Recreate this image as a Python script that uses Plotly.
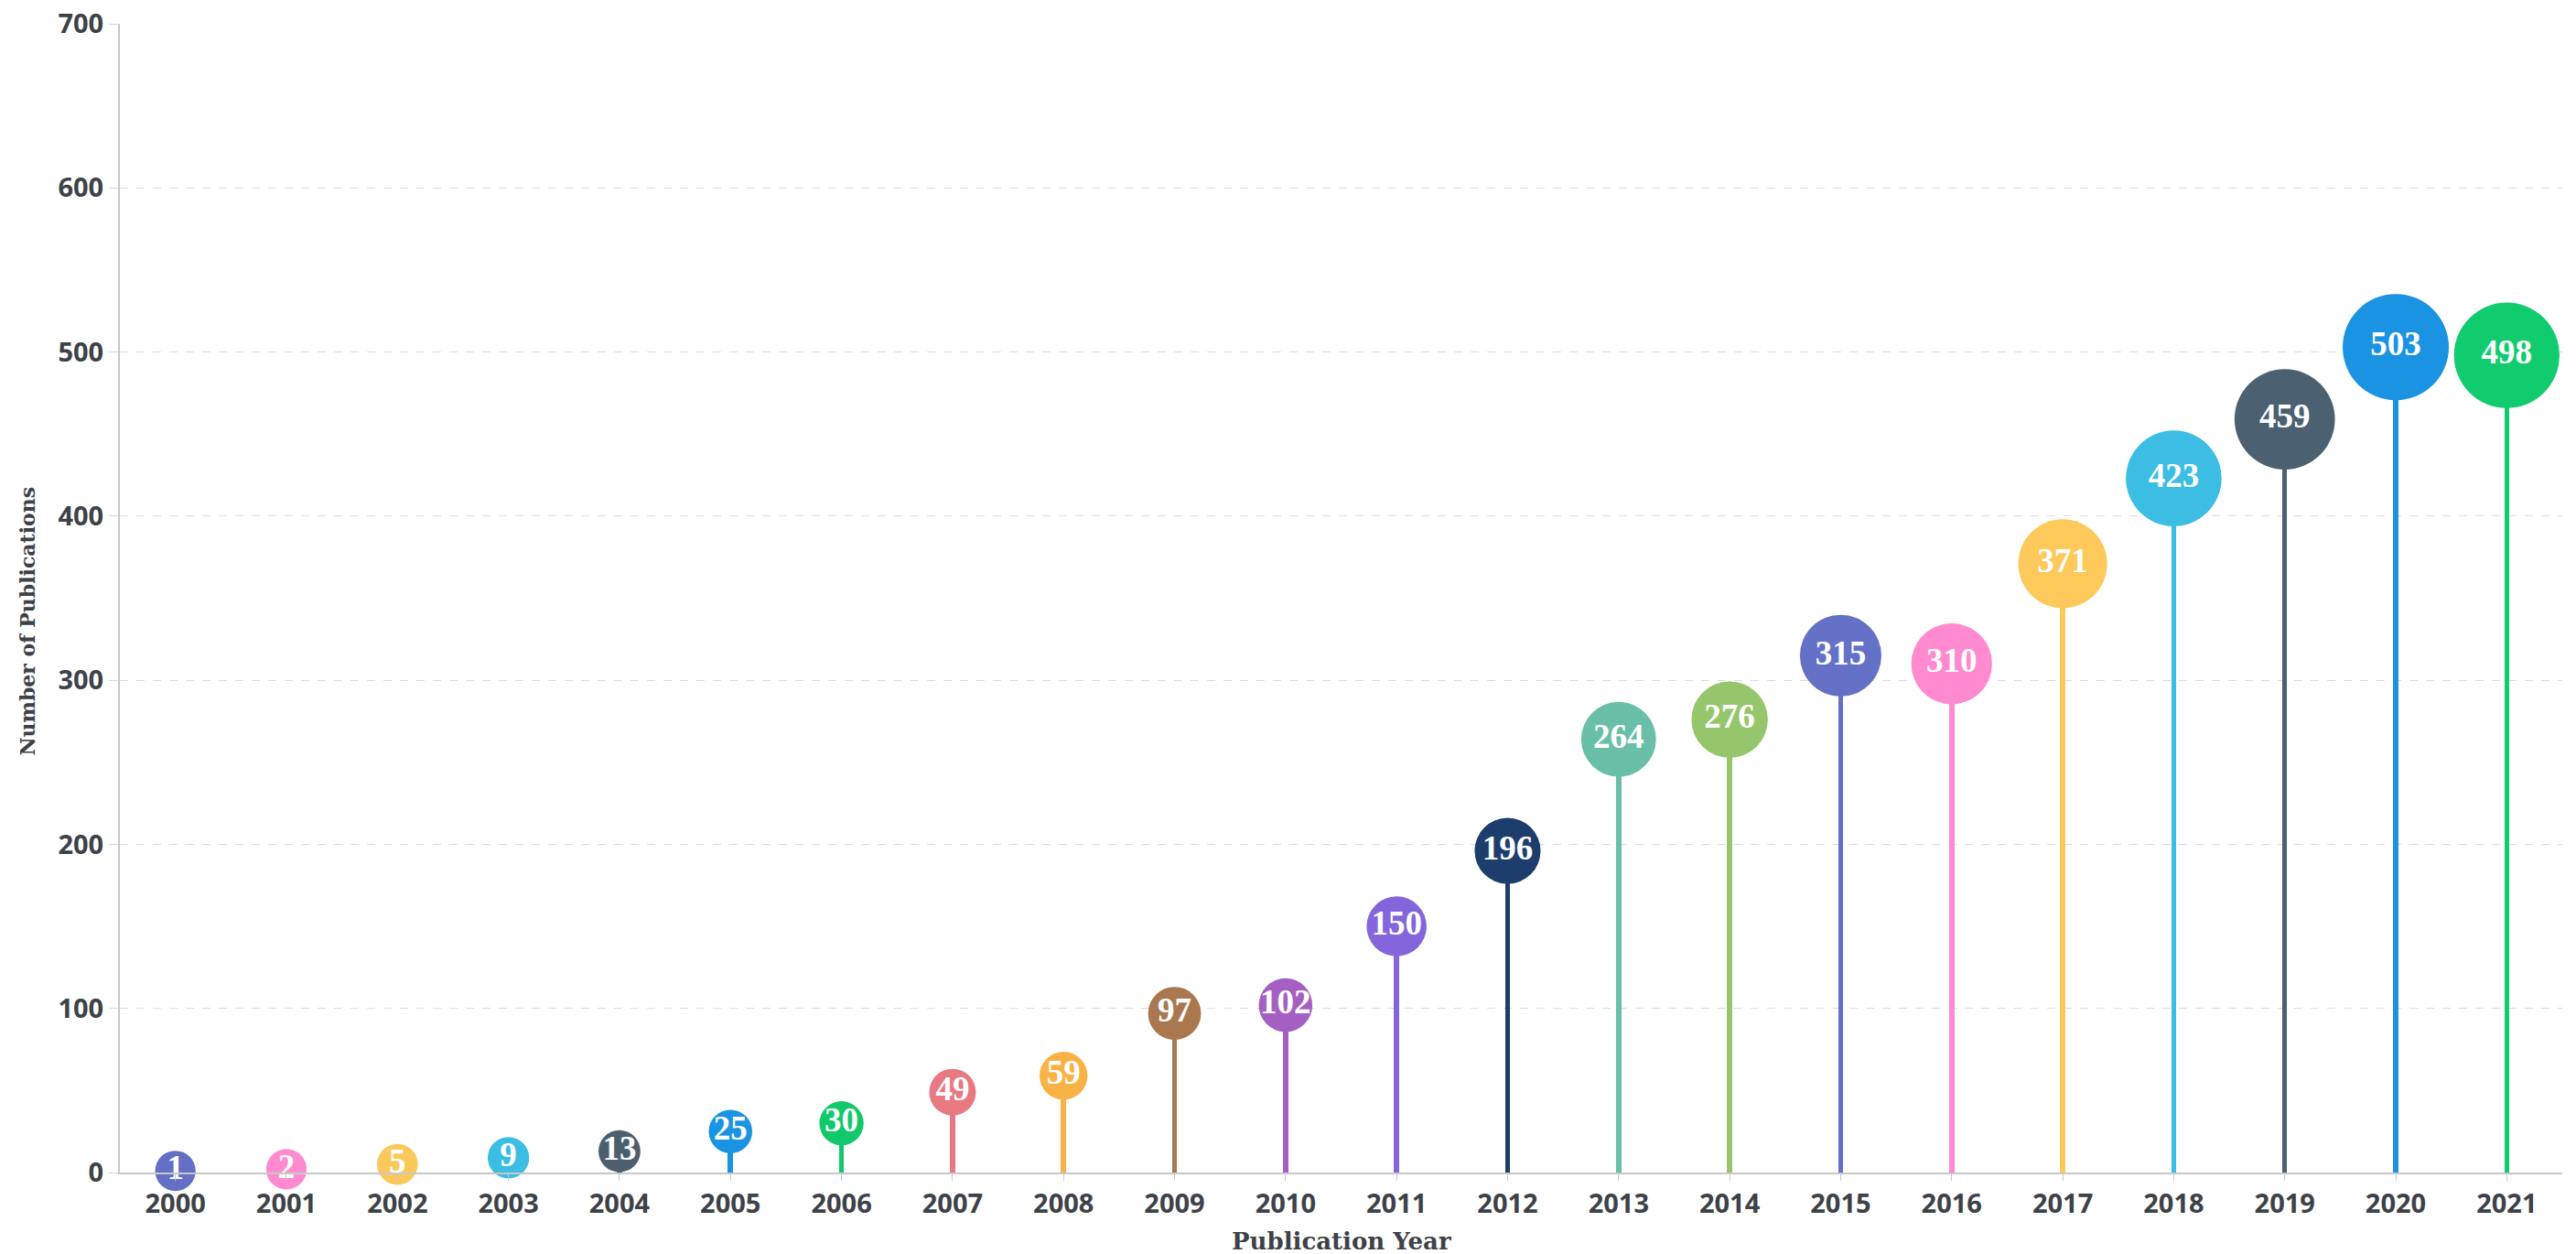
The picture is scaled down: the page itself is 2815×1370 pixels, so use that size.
import plotly.graph_objects as go

# publications per year
years = [2000, 2001, 2002, 2003, 2004, 2005, 2006, 2007, 2008, 2009, 2010,
         2011, 2012, 2013, 2014, 2015, 2016, 2017, 2018, 2019, 2020, 2021]
counts = [1, 2, 5, 9, 13, 25, 30, 49, 59, 97, 102,
          150, 196, 264, 276, 315, 310, 371, 423, 459, 503, 498]
colors = ["#6470c6", "#ff8ad0", "#fbc95a", "#3bbde4", "#4b5f6e", "#1a93e3",
          "#11c96b", "#e87882", "#f8b245", "#a9784f", "#a55fc2", "#8465db",
          "#1d3e6c", "#6abfa8", "#96c66b", "#6471c7", "#ff8acf", "#fcc95a",
          "#3bbde4", "#4b6070", "#1a93e3", "#10cc6e"]
y_ticks = [0, 100, 200, 300, 400, 500, 600, 700]

# bubble diameter grows with the count
min_d, max_d = 44, 116
top = max(counts)
sizes = [min_d + (max_d - min_d) * c / top for c in counts]

tick_font = dict(family="Open Sans", size=29, color="#3d4148", weight="bold")
x_title_font = dict(family="DejaVu Serif", size=26, color="#3d4148", weight="bold")
y_title_font = dict(family="DejaVu Serif", size=22, color="#3d4148", weight="bold")

fig = go.Figure()

# stems
fig.add_trace(go.Bar(
    x=years, y=counts, width=0.046,
    marker=dict(color=colors, line=dict(width=0)),
    hoverinfo="skip", showlegend=False,
))

# lollipop heads
fig.add_trace(go.Scatter(
    x=years, y=counts, mode="markers+text",
    text=[str(c) for c in counts], textposition="middle center",
    textfont=dict(family="Liberation Serif", size=37, color="white", weight="bold"),
    marker=dict(size=sizes, color=colors, line=dict(width=0), opacity=1),
    cliponaxis=False, showlegend=False,
))

# the page body adds an 8px margin, so the figure is a bit smaller than the window
fig.update_layout(
    width=2807, height=1362,
    margin=dict(l=123, r=15, t=18, b=89),
    paper_bgcolor="white", plot_bgcolor="white",
    bargap=0,
)

fig.update_xaxes(
    range=[1999.5, 2021.5], tickmode="array", tickvals=years,
    ticktext=[str(y) for y in years], tickfont=tick_font,
    automargin=False,
    showgrid=False, zeroline=False,
    showline=True, linecolor="#c8c8c8", linewidth=2,
    ticks="outside", ticklen=7, tickcolor="#c8c8c8", tickwidth=1,
)

fig.update_yaxes(
    range=[0, 700], tickmode="array", tickvals=y_ticks, tickfont=tick_font,
    ticklabeloverflow="allow", automargin=False,
    showgrid=True, gridcolor="#dcdcdc", griddash="dash", gridwidth=1,
    zeroline=False,
    showline=True, linecolor="#c8c8c8", linewidth=2,
    ticks="outside", ticklen=10, tickcolor="#d8d8d8", tickwidth=1,
)

# axis titles placed as annotations so they sit where the original has them
fig.add_annotation(
    text="Publication Year", font=x_title_font,
    xref="paper", yref="paper", x=0.5, y=0, xanchor="center", yanchor="middle",
    yshift=-75, showarrow=False,
)
fig.add_annotation(
    text="Number of Publications", textangle=-90, font=y_title_font,
    xref="paper", yref="paper", x=0, y=0.5, xanchor="center", yanchor="middle",
    xshift=-102, yshift=-25, showarrow=False,
)

fig.write_html("out.html")
